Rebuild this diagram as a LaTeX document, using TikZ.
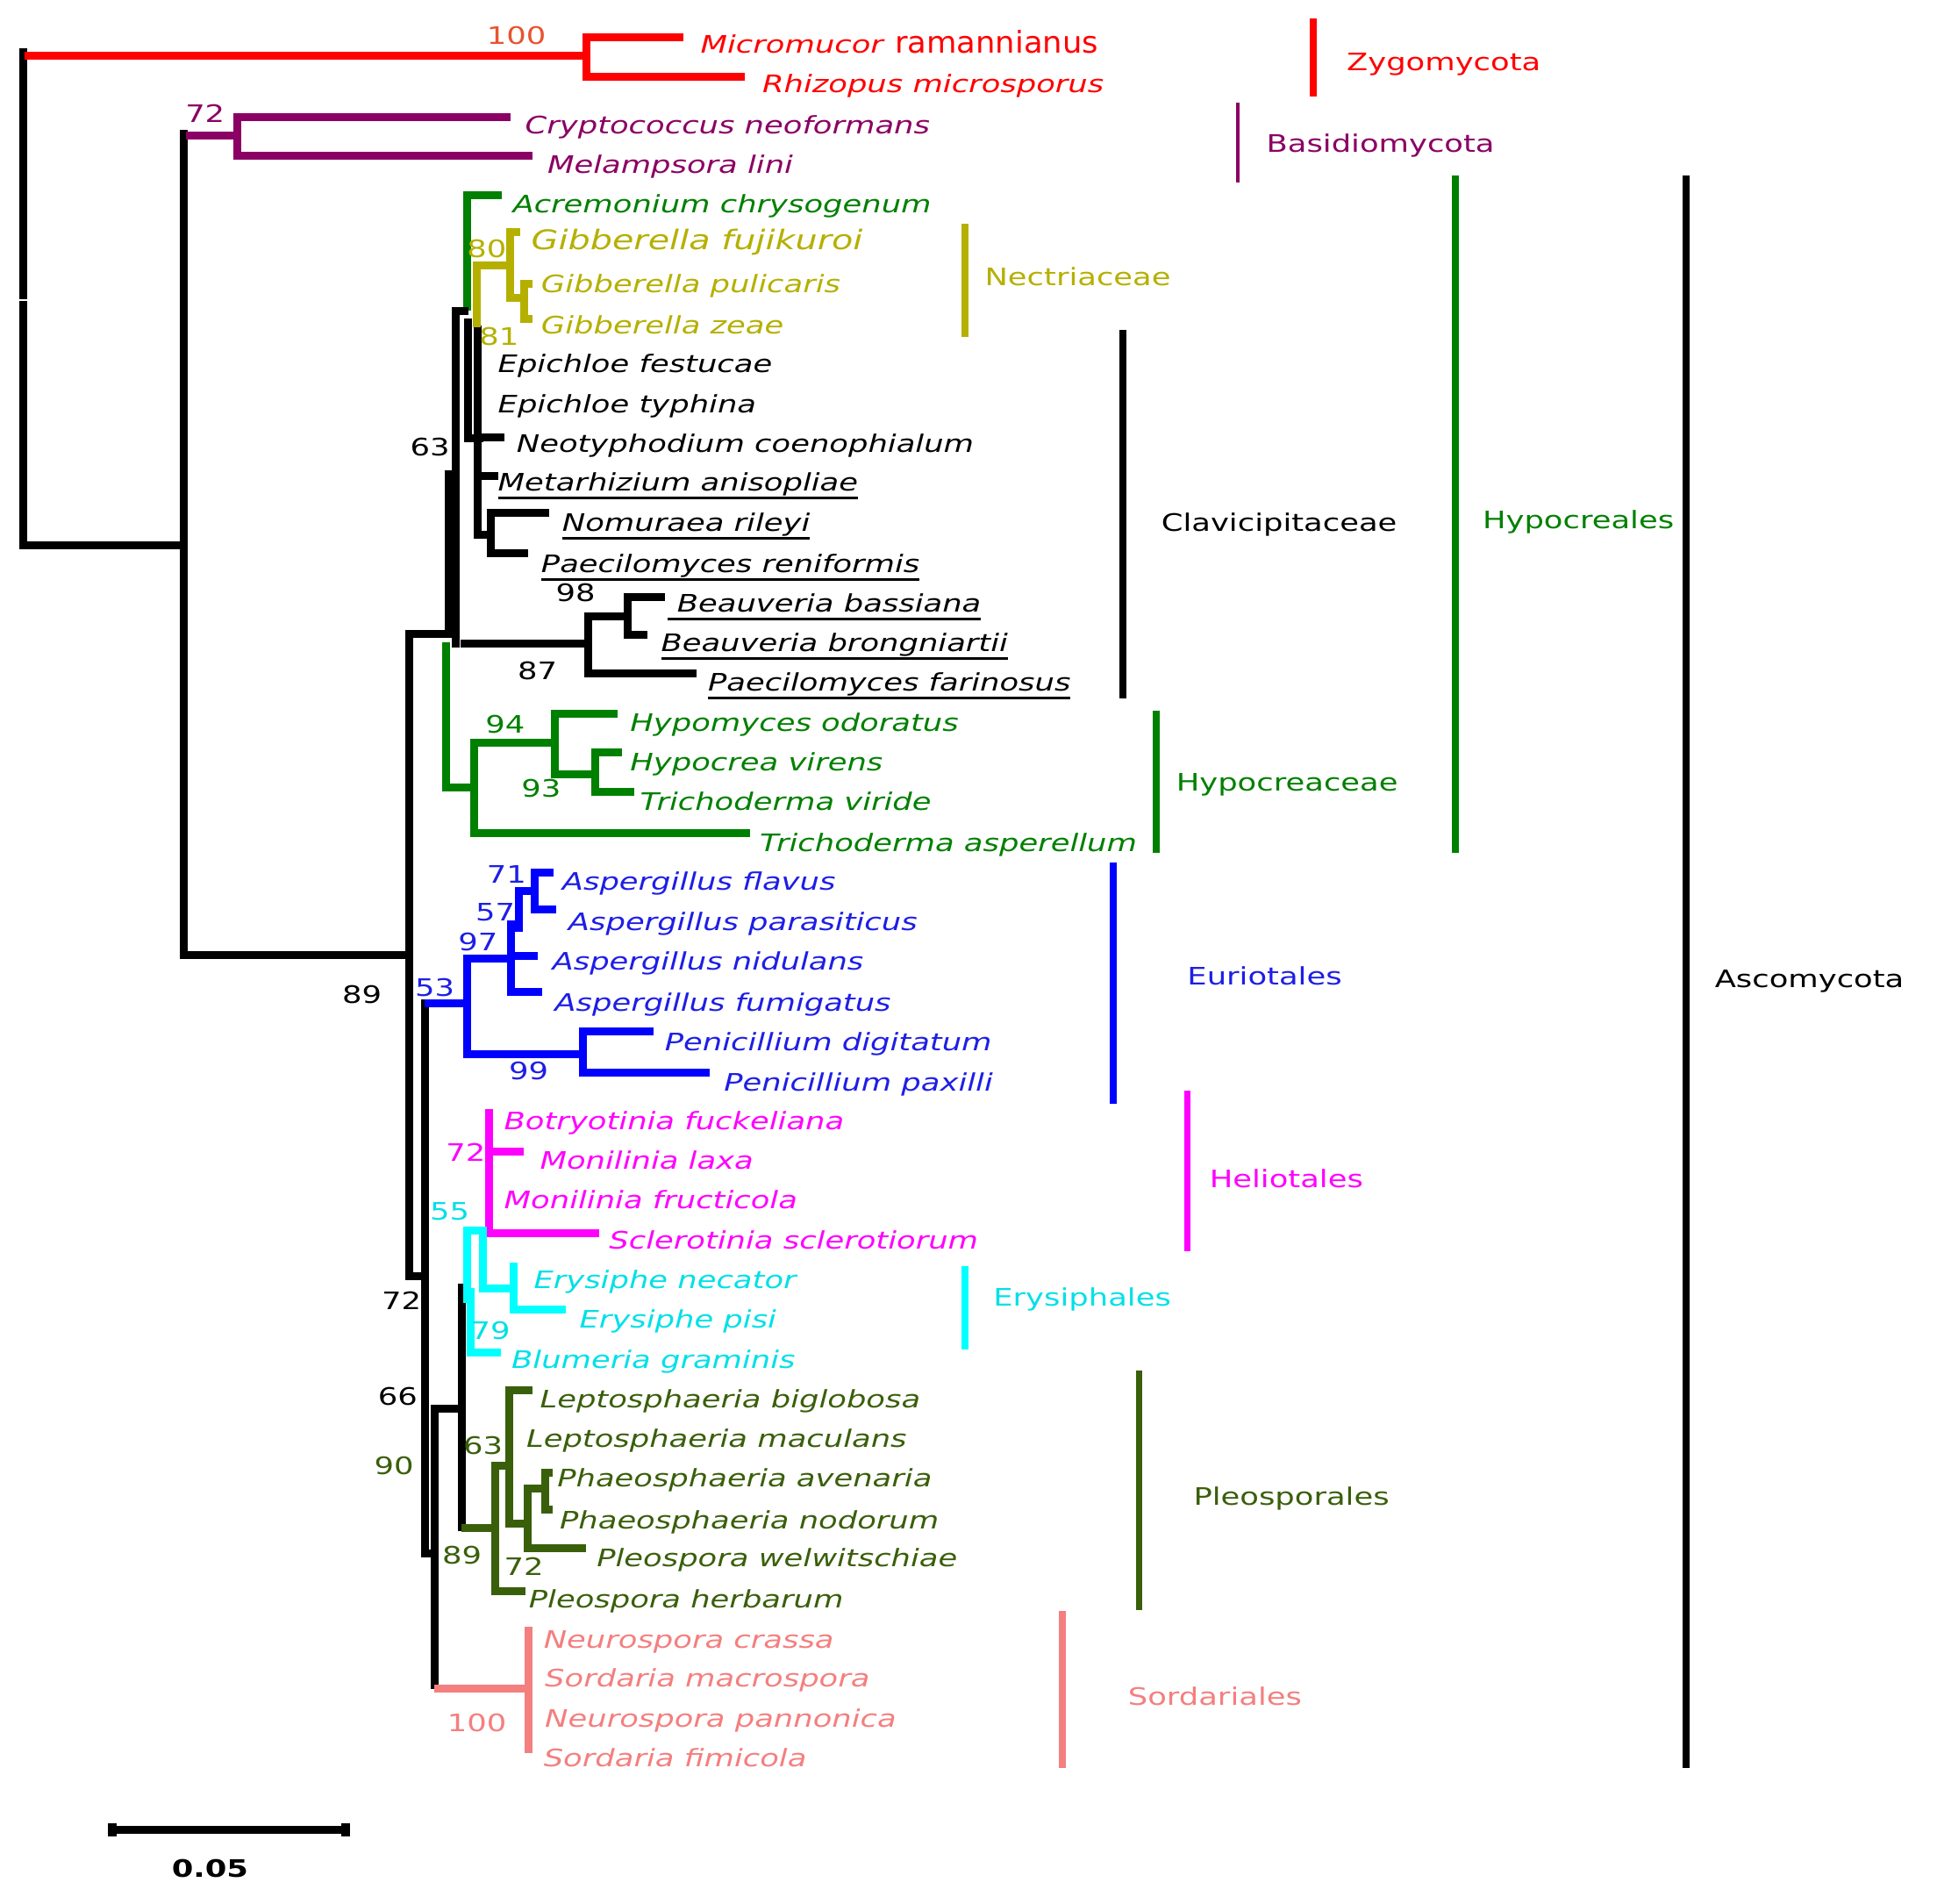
\documentclass[tikz,border=0pt]{standalone}
\usepackage{fontspec}
\usepackage{graphicx}
\setmainfont{DejaVu Sans}[ItalicFont={DejaVu Sans Oblique},BoldFont={DejaVu Sans Bold},FakeStretch=1.29]
\definecolor{zyg}{HTML}{FF0000}
\definecolor{zygsv}{HTML}{E8532F}
\definecolor{basid}{HTML}{8B0064}
\definecolor{hgreen}{HTML}{008000}
\definecolor{nect}{HTML}{B5B000}
\definecolor{euro}{HTML}{0000FF}
\definecolor{eurotx}{HTML}{1E1EE6}
\definecolor{helio}{HTML}{FF00FF}
\definecolor{erys}{HTML}{00FFFF}
\definecolor{erystx}{HTML}{00E0E8}
\definecolor{pleo}{HTML}{3A5F0B}
\definecolor{sord}{HTML}{F47F7F}
\newcommand\taxfont{\fontsize{27.4}{30}\selectfont\itshape}
\newcommand\svfont{\fontsize{27.4}{30}\selectfont}
\newcommand\ulx[1]{\setbox0\hbox{#1}\rlap{\vrule height -6.5pt depth 9.5pt width \wd0}\box0}
\tikzset{
 br/.style={line width=9pt, line join=miter, line cap=rect},
 cbar/.style={line width=7.5pt},
 tx/.style={anchor=west, inner sep=0pt, text height=20pt, text depth=0pt, font=\taxfont},
 sv/.style={anchor=center, inner sep=0pt, text height=20pt, text depth=0pt, font=\svfont},
 cl/.style={anchor=west, inner sep=0pt, text height=20pt, text depth=0pt, font=\svfont},
}
\begin{document}
\begin{tikzpicture}[x=1.408pt,y=-1.408pt]
\useasboundingbox[fill=white] (0,0) rectangle (1568,1541);

% ---------- branches ----------
% root
\draw[br] (19,42) -- (19,239);
\draw[br] (19,247) -- (19,441) -- (149,441);
% Zygomycota
\draw[br,zyg] (23,45) -- (475,45);
\draw[br,zyg] (550,30) -- (475,30) -- (475,62) -- (600,62);
% Basidiomycota
\draw[br] (149,108) -- (149,773) -- (331,773);
\draw[br,basid] (154,110) -- (192,110);
\draw[br,basid] (410,95) -- (192,95) -- (192,126) -- (428,126);
% backbone
\draw[br] (362,513) -- (331,513) -- (331,1033) -- (344,1033);
\draw[br] (344,812) -- (344,1257) -- (352,1257);
\draw[br] (372,1140) -- (352,1140) -- (352,1364);
\draw[br] (374,1042) -- (374,1236);
% Hypocreales / Clavicipitaceae
\draw[br] (369,252) -- (369,521);
\draw[br] (363,384) -- (363,513);
\draw[br,hgreen] (403,158) -- (378,158) -- (378,248);
\draw[br] (369,252) -- (376,252);
\draw[br] (379,261) -- (379,355) -- (388,355);
\draw[br] (387,267) -- (387,433) -- (397,433);
\draw[br] (387,354) -- (405,354);
\draw[br] (387,385) -- (400,385);
\draw[br] (441,415) -- (397,415) -- (397,448) -- (424,448);
% Nectriaceae
\draw[br,nect] (386,262) -- (386,215) -- (413,215);
\draw[br,nect] (418,188) -- (413,188) -- (413,241) -- (424,241);
\draw[br,nect] (428,230) -- (424,230) -- (424,258) -- (428,258);
% Beauveria clade
\draw[br] (376,521) -- (476,521);
\draw[br] (508,499) -- (476,499) -- (476,545) -- (561,545);
\draw[br] (535,483) -- (508,483) -- (508,514) -- (521,514);
% Hypocreaceae
\draw[br,hgreen] (361,523) -- (361,637) -- (384,637);
\draw[br,hgreen] (449,601) -- (384,601) -- (384,674) -- (604,674);
\draw[br,hgreen] (497,578) -- (449,578) -- (449,627) -- (482,627);
\draw[br,hgreen] (500,609) -- (482,609) -- (482,641) -- (510,641);
% Euriotales
\draw[br,euro] (347,812) -- (378,812);
\draw[br,euro] (414,776) -- (378,776) -- (378,853) -- (472,853);
\draw[br,euro] (414,748) -- (414,803) -- (436,803);
\draw[br,euro] (414,774) -- (432,774);
\draw[br,euro] (414,750) -- (420,750);
\draw[br,euro] (433,721) -- (420,721) -- (420,751);
\draw[br,euro] (445,706) -- (433,706) -- (433,736) -- (447,736);
\draw[br,euro] (526,835) -- (472,835) -- (472,868) -- (571,868);
% Heliotales
\draw[br,helio] (396,901) -- (396,998) -- (482,998);
\draw[br,helio] (396,932) -- (421,932);
% Erysiphales
\draw[br,erys] (378,1051) -- (378,996) -- (391,996) -- (391,1043) -- (416,1043);
\draw[br,erys] (416,1025) -- (416,1060) -- (455,1060);
\draw[br,erys] (381,1046) -- (381,1095) -- (402,1095);
% Pleosporales
\draw[br,pleo] (377,1237) -- (401,1237);
\draw[br,pleo] (412,1186) -- (401,1186) -- (401,1288) -- (422,1288);
\draw[br,pleo] (428,1125) -- (412,1125) -- (412,1233) -- (427,1233);
\draw[br,pleo] (441,1205) -- (427,1205) -- (427,1253) -- (471,1253);
\draw[br,pleo] (444,1192) -- (441,1192) -- (441,1222) -- (444,1222);
% Sordariales
\draw[br,sord] (355,1367) -- (428,1367);
\draw[br,sord] (428,1320) -- (428,1416);

% ---------- support values ----------
\node[sv,zygsv] (s1) at (418,29) {100};
\node[sv,basid] (s2) at (166,92) {72};
\node[sv,nect] (s3) at (394,201) {80};
\node[sv,nect] (s4) at (404,272) {81};
\node[sv] (s5) at (348,362) {63};
\node[sv] (s6) at (466,480) {98};
\node[sv] (s7) at (435,543) {87};
\node[sv,hgreen] (s8) at (409,586) {94};
\node[sv,hgreen] (s9) at (438,638) {93};
\node[sv,eurotx] (s10) at (410,708) {71};
\node[sv,eurotx] (s11) at (401,738) {57};
\node[sv,eurotx] (s12) at (387,762) {97};
\node[sv,eurotx] (s13) at (352,799) {53};
\node[sv,eurotx] (s14) at (428,867) {99};
\node[sv] (s15) at (293,805) {89};
\node[sv,helio] (s16) at (377,933) {72};
\node[sv,erystx] (s17) at (364,980) {55};
\node[sv,erystx] (s18) at (397,1077) {79};
\node[sv] (s19) at (325,1053) {72};
\node[sv] (s20) at (322,1130) {66};
\node[sv,pleo] (s21) at (319,1186) {90};
\node[sv,pleo] (s22) at (391,1170) {63};
\node[sv,pleo] (s23) at (374,1259) {89};
\node[sv,pleo] (s24) at (424,1268) {72};
\node[sv,sord] (s25) at (386,1394) {100};

% ---------- taxa ----------
\node[tx,zyg] (t1) at (567,36) {Micromucor \textup{\scalebox{1}[1.25]{ramannianus}}};
\node[tx,zyg] (t2) at (617,68) {Rhizopus microsporus};
\node[tx,basid] (t3) at (425,101) {Cryptococcus neoformans};
\node[tx,basid] (t4) at (443,133) {Melampsora lini};
\node[tx,hgreen] (t5) at (415,165) {Acremonium chrysogenum};
\node[tx,nect,font=\fontsize{30.8}{33}\selectfont\itshape] (t6) at (430,195) {Gibberella fujikuroi};
\node[tx,nect] (t7) at (438,230) {Gibberella pulicaris};
\node[tx,nect] (t8) at (438,263) {Gibberella zeae};
\node[tx] (t9) at (403,294) {Epichloe festucae};
\node[tx] (t10) at (403,327) {Epichloe typhina};
\node[tx] (t11) at (418,359) {Neotyphodium coenophialum};
\node[tx] (t12) at (403,390) {\ulx{Metarhizium anisopliae}};
\node[tx] (t13) at (455,423) {\ulx{Nomuraea rileyi}};
\node[tx] (t14) at (438,456) {\ulx{Paecilomyces reniformis}};
\node[tx] (t15) at (540,488) {\ulx{\ Beauveria bassiana}};
\node[tx] (t16) at (535,520) {\ulx{Beauveria brongniartii}};
\node[tx] (t17) at (573,552) {\ulx{Paecilomyces farinosus}};
\node[tx,hgreen] (t18) at (510,585) {Hypomyces odoratus};
\node[tx,hgreen] (t19) at (510,617) {Hypocrea virens};
\node[tx,hgreen] (t20) at (518,649) {Trichoderma viride};
\node[tx,hgreen] (t21) at (615,682) {Trichoderma asperellum};
\node[tx,eurotx] (t22) at (455,713) {Aspergillus flavus};
\node[tx,eurotx] (t23) at (460,746) {Aspergillus parasiticus};
\node[tx,eurotx] (t24) at (447,778) {Aspergillus nidulans};
\node[tx,eurotx] (t25) at (449,811) {Aspergillus fumigatus};
\node[tx,eurotx] (t26) at (538,843) {Penicillium digitatum};
\node[tx,eurotx] (t27) at (586,876) {Penicillium paxilli};
\node[tx,helio] (t28) at (408,907) {Botryotinia fuckeliana};
\node[tx,helio] (t29) at (437,939) {Monilinia laxa};
\node[tx,helio] (t30) at (408,971) {Monilinia fructicola};
\node[tx,helio] (t31) at (493,1004) {Sclerotinia sclerotiorum};
\node[tx,erystx] (t32) at (432,1036) {Erysiphe necator};
\node[tx,erystx] (t33) at (469,1068) {Erysiphe pisi};
\node[tx,erystx] (t34) at (414,1100) {Blumeria graminis};
\node[tx,pleo] (t35) at (437,1132) {Leptosphaeria biglobosa};
\node[tx,pleo] (t36) at (426,1164) {Leptosphaeria maculans};
\node[tx,pleo] (t37) at (451,1196) {Phaeosphaeria avenaria};
\node[tx,pleo] (t38) at (453,1230) {Phaeosphaeria nodorum};
\node[tx,pleo] (t39) at (483,1261) {Pleospora welwitschiae};
\node[tx,pleo] (t40) at (428,1294) {Pleospora herbarum};
\node[tx,sord] (t41) at (440,1327) {Neurospora crassa};
\node[tx,sord] (t42) at (441,1358) {Sordaria macrospora};
\node[tx,sord] (t43) at (441,1391) {Neurospora pannonica};
\node[tx,sord] (t44) at (440,1423) {Sordaria fimicola};

% ---------- clade bars ----------
\draw[cbar,zyg,line width=8.5pt] (1063,15) -- (1063,78);
\draw[cbar,basid,line width=4pt] (1002,83) -- (1002,148);
\draw[cbar,nect] (781,181) -- (781,273);
\draw[cbar] (909,267) -- (909,565);
\draw[cbar,hgreen] (1178,142) -- (1178,690);
\draw[cbar,hgreen] (936,575) -- (936,690);
\draw[cbar] (1365,142) -- (1365,1431);
\draw[cbar,euro] (901,698) -- (901,893);
\draw[cbar,helio] (961,883) -- (961,1013);
\draw[cbar,erys] (781,1025) -- (781,1092);
\draw[cbar,pleo] (922,1109) -- (922,1303);
\draw[cbar,sord] (860,1304) -- (860,1431);

% ---------- clade labels ----------
\node[cl,zyg] (c1) at (1090,50) {Zygomycota};
\node[cl,basid] (c2) at (1025,116) {Basidiomycota};
\node[cl,nect] (c3) at (797,224) {Nectriaceae};
\node[cl] (c4) at (940,423) {Clavicipitaceae};
\node[cl,hgreen] (c5) at (1200,421) {Hypocreales};
\node[cl,hgreen] (c6) at (952,633) {Hypocreaceae};
\node[cl] (c7) at (1388,792) {Ascomycota};
\node[cl,eurotx] (c8) at (961,790) {Euriotales};
\node[cl,helio] (c9) at (979,954) {Heliotales};
\node[cl,erystx] (c10) at (804,1050) {Erysiphales};
\node[cl,pleo] (c11) at (966,1211) {Pleosporales};
\node[cl,sord] (c12) at (913,1373) {Sordariales};

% ---------- scale bar ----------
\draw[line width=9pt] (89,1481) -- (282,1481);
\draw[line width=10pt] (91,1476) -- (91,1486);
\draw[line width=10pt] (280,1476) -- (280,1486);
\node[sv,font=\svfont\bfseries] (sc) at (170,1512) {0.05};
\end{tikzpicture}
\end{document}
